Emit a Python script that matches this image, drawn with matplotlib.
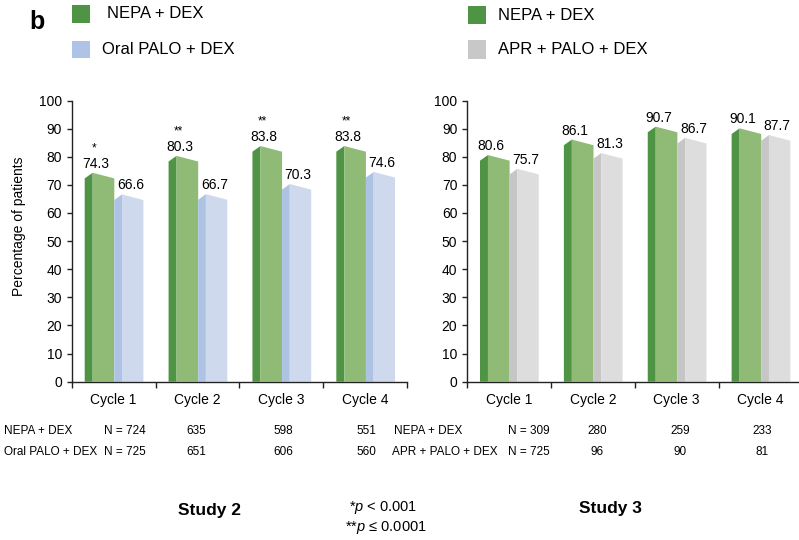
import matplotlib
matplotlib.use("Agg")
import matplotlib.pyplot as plt
from matplotlib.patches import Rectangle

plt.rcParams['font.family'] = ['Liberation Sans', 'DejaVu Sans']
plt.rcParams['mathtext.fontset'] = 'custom'
plt.rcParams['mathtext.rm'] = 'Liberation Sans'
plt.rcParams['mathtext.it'] = 'Liberation Sans:italic'

# ---- data ----
cycles = ["Cycle 1", "Cycle 2", "Cycle 3", "Cycle 4"]
s2_nepa = [74.3, 80.3, 83.8, 83.8]
s2_palo = [66.6, 66.7, 70.3, 74.6]
s2_stars = ["*", "**", "**", "**"]
s3_nepa = [80.6, 86.1, 90.7, 90.1]
s3_apr = [75.7, 81.3, 86.7, 87.7]
s2_n_nepa = ["N = 724", "635", "598", "551"]
s2_n_palo = ["N = 725", "651", "606", "560"]
s3_n_nepa = ["N = 309", "280", "259", "233"]
s3_n_apr = ["N = 725", "96", "90", "81"]
yticks = [0, 10, 20, 30, 40, 50, 60, 70, 80, 90, 100]

W, H = 799, 540
fig = plt.figure(figsize=(W / 100, H / 100), dpi=100)

def fx(px):
    return px / W

def fy(py):
    return 1 - py / H

GREEN_D, GREEN_L = '#4e9444', '#8fbb76'
BLUE_D, BLUE_L = '#aec3e4', '#cfd9ed'
GRAY_D, GRAY_L = '#c5c6c5', '#dddddd'

AX_W_PX = 335.5
ax_bottom = fy(381.7)
ax_h = (381.7 - 100.5) / H
ax_w = AX_W_PX / W
ax1 = fig.add_axes([fx(71.7), ax_bottom, ax_w, ax_h])
ax2 = fig.add_axes([fx(467.0), ax_bottom, ax_w, ax_h])

D = 2.0  # slope drop of bar tops

def bar3d(ax, i, x0, xp, x1, v, dark, light):
    ax.fill([i + x0, i + x0, i + xp, i + xp], [0, v - D, v, 0], color=dark, lw=0)
    ax.fill([i + xp, i + xp, i + x1, i + x1], [0, v, v - D, 0], color=light, lw=0)

def style(ax):
    ax.set_xlim(0, 4)
    ax.set_ylim(0, 100)
    for s in ['top', 'right']:
        ax.spines[s].set_visible(False)
    for s in ['left', 'bottom']:
        ax.spines[s].set_color('#222222')
        ax.spines[s].set_linewidth(1.0)
    ax.set_yticks(yticks)
    ax.set_yticklabels([str(t) for t in yticks], fontsize=10)
    ax.tick_params(axis='y', direction='out', length=3.6, width=1.0, pad=3.4, color='#222222')
    ax.set_xticks([i + 0.5 for i in range(4)])
    ax.set_xticklabels(cycles, fontsize=10)
    ax.tick_params(axis='x', which='major', length=0, pad=8)
    ax.set_xticks([0, 1, 2, 3, 4], minor=True)
    ax.tick_params(axis='x', which='minor', direction='out', length=4, width=1.0, color='#222222')
    ax.patch.set_alpha(0)

def draw(ax, a, b, colb, stars=None):
    for i in range(4):
        bar3d(ax, i, 0.155, 0.25, 0.508, a[i], GREEN_D, GREEN_L)
        bar3d(ax, i, 0.508, 0.6, 0.855, b[i], colb[0], colb[1])
        ax.annotate(f"{a[i]:.1f}", (i + 0.29, a[i]), xytext=(0, 3.6),
                    textcoords='offset points', ha='center', va='baseline', fontsize=10)
        ax.annotate(f"{b[i]:.1f}", (i + 0.70, b[i]), xytext=(0, 3.6),
                    textcoords='offset points', ha='center', va='baseline', fontsize=10)
        if stars is not None:
            ax.annotate(stars[i], (i + 0.27, a[i]), xytext=(0, 15.5),
                        textcoords='offset points', ha='center', va='baseline', fontsize=8.5)

style(ax1)
style(ax2)
draw(ax1, s2_nepa, s2_palo, (BLUE_D, BLUE_L), s2_stars)
draw(ax2, s3_nepa, s3_apr, (GRAY_D, GRAY_L))

ax1.set_ylabel("Percentage of patients", fontsize=10)
ax1.yaxis.set_label_coords((19 - 71.7) / AX_W_PX, (381.7 - 226) / (381.7 - 100.5))
ax1.yaxis.label.set_va('center')

# ---- legends ----
def legend_item(x, ytop, ybot, col, tx, label, ty):
    fig.add_artist(Rectangle((fx(x), fy(ybot)), fx(18), (ybot - ytop) / H,
                             transform=fig.transFigure, color=col, lw=0))
    fig.text(fx(tx), fy(ty), label, fontsize=12, ha='left', va='center')

legend_item(72, 5, 23, GREEN_D, 107, "NEPA + DEX", 14)
legend_item(72, 41, 58, '#aec3e5', 102, "Oral PALO + DEX", 49)
legend_item(468, 6, 24, GREEN_D, 498, "NEPA + DEX", 15)
legend_item(468, 40, 59, '#c7c8c7', 498, "APR + PALO + DEX", 50)

fig.text(fx(37), fy(22), "b", fontsize=18, fontweight='bold', ha='center', va='center')

# ---- N table ----
TS = 8.5
centers1 = [None, 196, 283, 366]
centers3 = [None, 597, 680, 762]
r1, r2 = 431.5, 452
fig.text(fx(3.5), fy(r1), "NEPA + DEX", fontsize=TS, va='center')
fig.text(fx(3.5), fy(r2), "Oral PALO + DEX", fontsize=TS, va='center')
fig.text(fx(104), fy(r1), s2_n_nepa[0], fontsize=TS, va='center')
fig.text(fx(104), fy(r2), s2_n_palo[0], fontsize=TS, va='center')
for k in range(1, 4):
    fig.text(fx(centers1[k]), fy(r1), s2_n_nepa[k], fontsize=TS, va='center', ha='center')
    fig.text(fx(centers1[k]), fy(r2), s2_n_palo[k], fontsize=TS, va='center', ha='center')
fig.text(fx(394), fy(r1), "NEPA + DEX", fontsize=TS, va='center')
fig.text(fx(392), fy(r2), "APR + PALO + DEX", fontsize=TS, va='center')
fig.text(fx(508), fy(r1), s3_n_nepa[0], fontsize=TS, va='center')
fig.text(fx(508), fy(r2), s3_n_apr[0], fontsize=TS, va='center')
for k in range(1, 4):
    fig.text(fx(centers3[k]), fy(r1), s3_n_nepa[k], fontsize=TS, va='center', ha='center')
    fig.text(fx(centers3[k]), fy(r2), s3_n_apr[k], fontsize=TS, va='center', ha='center')

# ---- footer ----
fig.text(fx(210), fy(511), "Study 2", fontsize=12.5, fontweight='bold', ha='center', va='center')
fig.text(fx(610), fy(508), "Study 3", fontsize=12.5, fontweight='bold', ha='center', va='center')
fig.text(fx(349), fy(507), r"*$\mathit{p}$ < 0.001", fontsize=10.5, ha='left', va='center')
fig.text(fx(345), fy(528), r"**$\mathit{p}$ ≤ 0.0001", fontsize=10.5, ha='left', va='center')

fig.savefig("out.png", dpi=100)
